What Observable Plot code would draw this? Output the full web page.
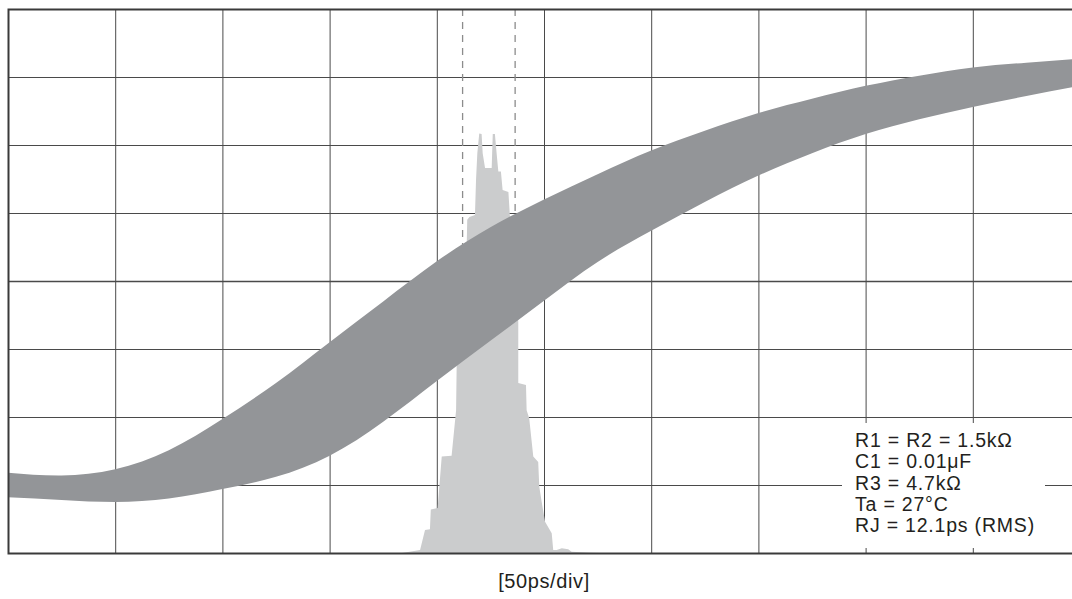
<!DOCTYPE html>
<html>
<head>
<meta charset="utf-8">
<script src="https://cdn.jsdelivr.net/npm/d3@7"></script>
<script src="https://cdn.jsdelivr.net/npm/@observablehq/plot@0.6"></script>
<style>
  html, body { margin: 0; padding: 0; background: #fff; overflow: hidden; }
  #wrap { position: relative; width: 1072px; height: 599px; overflow: hidden; }
  #wrap svg { max-width: none !important; display: block; }
  #legend {
    position: absolute; left: 842px; top: 423px; width: 203px; height: 125px;
    background: #fff; box-sizing: border-box; padding: 7px 0 0 13px;
    font-family: "Liberation Sans", Arial, sans-serif; font-size: 19.5px;
    line-height: 21.3px; letter-spacing: 0.8px; color: #231f20; white-space: nowrap;
  }
  #caption {
    position: absolute; left: 444px; width: 200px; top: 570px; text-align: center;
    font-family: "Liberation Sans", Arial, sans-serif; font-size: 20px;
    letter-spacing: 0.6px; color: #231f20;
  }
</style>
</head>
<body>
<div id="wrap">
  <div id="chart"></div>
  <div id="legend"></div>
  <div id="caption"></div>
</div>
<script>
// ---- data (x in ps, y in vertical divisions, 0 = centre line) ----
const xTicks = [-250, -200, -150, -100, -50, 0, 50, 100, 150, 200, 250];
const yTicks = [-4, -3, -2, -1, 0, 1, 2, 3, 4];

// eye-diagram edge band (upper and lower boundary)
const bandT      = [-250, -225, -200, -175, -150, -125, -100, -75, -50, -25, 0, 25, 50, 75, 100, 125, 150, 175, 200, 225, 250];
const bandTop    = [-2.82, -2.86, -2.77, -2.49, -2.03, -1.50, -0.90, -0.30, 0.29, 0.79, 1.20, 1.57, 1.92, 2.21, 2.47, 2.68, 2.87, 3.02, 3.14, 3.21, 3.27];
const bandBottom = [-3.18, -3.22, -3.25, -3.20, -3.06, -2.88, -2.57, -2.07, -1.47, -0.88, -0.29, 0.28, 0.74, 1.16, 1.55, 1.88, 2.16, 2.38, 2.56, 2.72, 2.87];

// jitter histogram outline (height in divisions above the bottom edge)
const histT = [-69.5, -66.2, -57.8, -55.5, -53.2, -52.8, -49.6, -47.7, -43.1, -41.0, -40.7, -40.6, -36.1, -35.8, -34.8, -32.2, -31.7, -31.1, -30.2, -29.1, -28.6, -27.5, -24.4, -23.9, -22.9, -22.1, -21.3, -20.1, -19.3, -16.6, -15.9, -14.9, -12.0, -12.0, -8.4, -8.1, -6.9, -5.0, -2.7, -2.2, -1.1, 0.5, 3.6, 4.3, 5.9, 8.3, 11.3, 12.9, 21.5, 26.1];
const histH = [0, 0, 0.044, 0.34, 0.35, 0.64, 0.66, 1.42, 1.43, 2.10, 2.84, 3.72, 4.46, 4.90, 4.94, 4.97, 5.49, 5.88, 6.17, 6.16, 5.88, 5.66, 5.66, 6.16, 6.16, 5.88, 5.61, 5.61, 5.34, 5.31, 4.95, 4.75, 3.40, 2.50, 2.47, 2.10, 1.98, 1.42, 1.34, 0.975, 0.754, 0.46, 0.29, 0.044, 0.044, 0.069, 0.054, 0.019, 0.004, 0];

// mean ± RMS markers
const rmsMarkers = [-38.2, -13.7];

const legendLines = ["R1 = R2 = 1.5kΩ", "C1 = 0.01μF", "R3 = 4.7kΩ", "Ta = 27°C", "RJ = 12.1ps (RMS)"];
const captionText = "[50ps/div]";

// ---- build tables ----
const band = bandT.map((t, i) => ({t, hi: bandTop[i], lo: bandBottom[i]}));
const hist = histT.map((t, i) => ({t, h: histH[i]}));
const yMin = yTicks[0];

const chart = Plot.plot({
  width: 1080,
  height: 555,
  marginLeft: 8,
  marginTop: 9,
  marginRight: 0,
  marginBottom: 2,
  style: {background: "#fff", maxWidth: "none"},
  x: {domain: [xTicks[0], xTicks[xTicks.length - 1]], axis: null},
  y: {domain: [yTicks[0], yTicks[yTicks.length - 1]], axis: null},
  marks: [
    Plot.ruleX(xTicks, {stroke: "#4a4a4a", strokeWidth: 1}),
    Plot.ruleY(yTicks, {stroke: "#4a4a4a", strokeWidth: d => d === 0 ? 1.4 : 1}),
    Plot.ruleX(rmsMarkers, {stroke: "#8c8c8c", strokeWidth: 1.3, strokeDasharray: "7,6"}),
    Plot.areaY(hist, {x: "t", y1: yMin, y2: d => yMin + d.h, fill: "#cbcccd", curve: "linear"}),
    Plot.areaY(band, {x: "t", y1: "lo", y2: "hi", fill: "#939598", curve: "natural"}),
    Plot.frame({stroke: "#3a3a3a", strokeWidth: 2})
  ]
});
document.getElementById("chart").appendChild(chart);

document.getElementById("legend").innerHTML = legendLines.map(s => `<div>${s}</div>`).join("");
document.getElementById("caption").textContent = captionText;
</script>
</body>
</html>
